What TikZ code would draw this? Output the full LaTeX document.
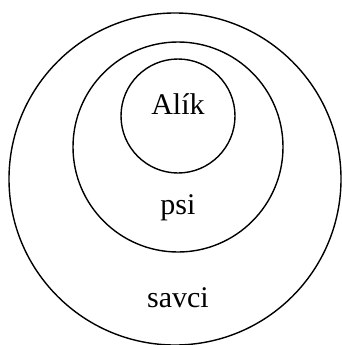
\documentclass[tikz,border=0pt]{standalone}
\usepackage{fontspec}
\setmainfont{Liberation Serif}
\usepackage{tikz}
\usetikzlibrary{positioning}

\begin{document}
\begin{tikzpicture}[
  x=1pt, y=1pt,
  ring/.style={
    circle, draw=black, line width=1.4pt,
    inner sep=0pt
  },
  lab/.style={anchor=base, font=\fontsize{30}{32}\selectfont}
]
\useasboundingbox (0,0) rectangle (341,-345);

% --- Nested sets ---
\node[ring, minimum size=332pt] (savci) at (175,-179) {};
\node[ring, minimum size=210pt] (psi)   at (178,-147) {};
\node[ring, minimum size=114pt] (alik)  at (178,-116) {};

% --- Set names ---
\node[lab] (alikname)  at (178,-114) {Alík};
\node[lab] (psiname)   at (178,-214) {psi};
\node[lab] (savciname) at (178,-307) {savci};

\end{tikzpicture}
\end{document}
